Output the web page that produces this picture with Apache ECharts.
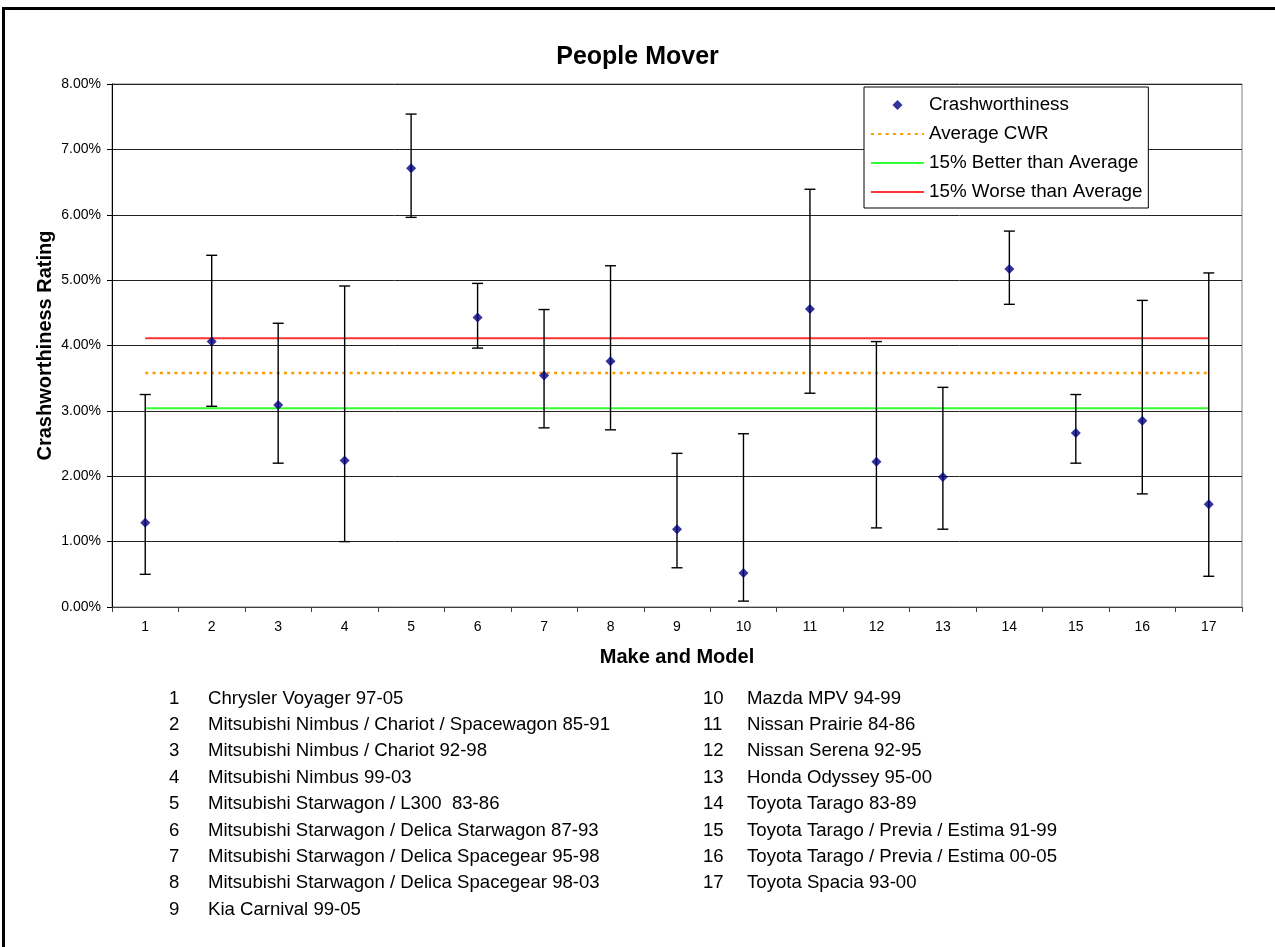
<!DOCTYPE html>
<html>
<head>
<meta charset="utf-8">
<script src="https://cdn.jsdelivr.net/npm/echarts@6/dist/echarts.min.js"></script>
<style>
html,body{margin:0;padding:0;background:#fff;}
#chart{width:1275px;height:947px;}
</style>
</head>
<body>
<div id="chart"></div>
<script>
// ---- data ----
const categories = ['1','2','3','4','5','6','7','8','9','10','11','12','13','14','15','16','17'];
const crashworthiness = [1.29, 4.06, 3.09, 2.24, 6.71, 4.43, 3.54, 3.76, 1.19, 0.52, 4.56, 2.22, 1.99, 5.17, 2.66, 2.85, 1.57];
const upperCI = [3.25, 5.38, 4.34, 4.91, 7.54, 4.95, 4.55, 5.22, 2.35, 2.65, 6.39, 4.06, 3.36, 5.75, 3.25, 4.69, 5.11];
const lowerCI = [0.50, 3.07, 2.20, 1.00, 5.96, 3.96, 2.74, 2.71, 0.60, 0.09, 3.27, 1.21, 1.19, 4.63, 2.20, 1.73, 0.47];
const averageCWR = [3.58, 3.58, 3.58, 3.58, 3.58, 3.58, 3.58, 3.58, 3.58, 3.58, 3.58, 3.58, 3.58, 3.58, 3.58, 3.58, 3.58];
const betterThanAvg = [3.04, 3.04, 3.04, 3.04, 3.04, 3.04, 3.04, 3.04, 3.04, 3.04, 3.04, 3.04, 3.04, 3.04, 3.04, 3.04, 3.04];
const worseThanAvg = [4.11, 4.11, 4.11, 4.11, 4.11, 4.11, 4.11, 4.11, 4.11, 4.11, 4.11, 4.11, 4.11, 4.11, 4.11, 4.11, 4.11];
const yTicks = [0, 1, 2, 3, 4, 5, 6, 7, 8];
const listNumbers = ['1','2','3','4','5','6','7','8','9','10','11','12','13','14','15','16','17'];
const listNames = [
  'Chrysler Voyager 97-05',
  'Mitsubishi Nimbus / Chariot / Spacewagon 85-91',
  'Mitsubishi Nimbus / Chariot 92-98',
  'Mitsubishi Nimbus 99-03',
  'Mitsubishi Starwagon / L300  83-86',
  'Mitsubishi Starwagon / Delica Starwagon 87-93',
  'Mitsubishi Starwagon / Delica Spacegear 95-98',
  'Mitsubishi Starwagon / Delica Spacegear 98-03',
  'Kia Carnival 99-05',
  'Mazda MPV 94-99',
  'Nissan Prairie 84-86',
  'Nissan Serena 92-95',
  'Honda Odyssey 95-00',
  'Toyota Tarago 83-89',
  'Toyota Tarago / Previa / Estima 91-99',
  'Toyota Tarago / Previa / Estima 00-05',
  'Toyota Spacia 93-00'
];

const FONT = "Arial, 'Liberation Sans', sans-serif";
const chart = echarts.init(document.getElementById('chart'), null, {renderer: 'canvas'});

const errData = categories.map((c, i) => [i, lowerCI[i], upperCI[i]]);

const graphics = [];
graphics.push({
  type: 'rect', silent: true, z: 100,
  shape: {x: 3.5, y: 8.5, width: 1400, height: 1100},
  style: {fill: null, stroke: '#000', lineWidth: 3}
});
const rowStart = 698.5, rowGap = 26.4;
listNumbers.forEach((n, i) => {
  const col = i < 9 ? 0 : 1;
  const row = col === 0 ? i : i - 9;
  const y = rowStart + row * rowGap;
  graphics.push({
    type: 'text', silent: true,
    x: col === 0 ? 169 : 703, y: y,
    style: {text: n, font: '18.6px ' + FONT, fill: '#000', verticalAlign: 'middle'}
  });
  graphics.push({
    type: 'text', silent: true,
    x: col === 0 ? 208 : 747, y: y,
    style: {text: listNames[i], font: '18.6px ' + FONT, fill: '#000', verticalAlign: 'middle'}
  });
});

const hideSym = {opacity: 0};
const option = {
  animation: false,
  backgroundColor: '#fff',
  textStyle: {fontFamily: FONT},
  title: {
    text: 'People Mover',
    left: 'center',
    top: 40,
    textStyle: {fontFamily: FONT, fontSize: 25, fontWeight: 'bold', color: '#000'}
  },
  legend: {
    orient: 'vertical',
    left: 864,
    top: 87,
    padding: [8, 6, 6, 6],
    itemWidth: 53,
    itemHeight: 10,
    itemGap: 9,
    symbolKeepAspect: true,
    backgroundColor: '#fff',
    borderColor: '#000',
    borderWidth: 1,
    borderRadius: 0,
    textStyle: {fontFamily: FONT, fontSize: 18.8, color: '#000', lineHeight: 20},
    data: [
      {name: 'Crashworthiness', icon: 'path://M5,0L10,5L5,10L0,5Z'},
      {name: 'Average CWR', itemStyle: hideSym},
      {name: '15% Better than Average', itemStyle: hideSym},
      {name: '15% Worse than Average', itemStyle: hideSym}
    ]
  },
  grid: {left: 112, right: 33, top: 84, bottom: 340, show: true, borderColor: '#808080', borderWidth: 1},
  xAxis: {
    type: 'category',
    data: categories,
    boundaryGap: true,
    name: 'Make and Model',
    nameLocation: 'middle',
    nameGap: 40,
    nameMoveOverlap: false,
    nameTextStyle: {fontFamily: FONT, fontSize: 20, fontWeight: 'bold', color: '#000'},
    axisLine: {show: true, lineStyle: {color: '#404040', width: 1}},
    axisTick: {show: true, length: 5, inside: false, alignWithLabel: false, lineStyle: {color: '#404040'}},
    axisLabel: {fontFamily: FONT, fontSize: 14, color: '#000', margin: 13, interval: 0},
    splitLine: {show: false}
  },
  yAxis: {
    type: 'value',
    min: 0, max: 8, interval: 1,
    name: 'Crashworthiness Rating',
    nameLocation: 'middle',
    nameGap: 57,
    nameMoveOverlap: false,
    nameTextStyle: {fontFamily: FONT, fontSize: 20, fontWeight: 'bold', color: '#000'},
    axisLine: {show: true, lineStyle: {color: '#000', width: 1}},
    axisTick: {show: true, length: 5, lineStyle: {color: '#000'}},
    axisLabel: {fontFamily: FONT, fontSize: 14, color: '#000', margin: 11,
      formatter: v => yTicks.indexOf(v) >= 0 ? v.toFixed(2) + '%' : ''},
    splitLine: {show: true, lineStyle: {color: '#222', width: 1}}
  },
  series: [
    {
      name: '15% Better than Average', type: 'line', data: betterThanAvg,
      symbol: 'none', z: 3,
      lineStyle: {color: '#33FF33', width: 2},
      itemStyle: {color: '#33FF33'}
    },
    {
      name: '15% Worse than Average', type: 'line', data: worseThanAvg,
      symbol: 'none', z: 3,
      lineStyle: {color: '#FF3333', width: 2},
      itemStyle: {color: '#FF3333'}
    },
    {
      name: 'Average CWR', type: 'line', data: averageCWR,
      symbol: 'none', z: 3,
      lineStyle: {color: '#FF9900', width: 2.5, type: [3, 4.3]},
      itemStyle: {color: '#FF9900'}
    },
    {
      name: 'errorbars', type: 'custom', z: 4,
      data: errData,
      encode: {x: 0, y: [1, 2]},
      renderItem: function (params, api) {
        const idx = api.value(0);
        const pHi = api.coord([idx, api.value(2)]);
        const pLo = api.coord([idx, api.value(1)]);
        const w = 5.5;
        const st = {stroke: '#000', lineWidth: 1.4};
        return {
          type: 'group',
          children: [
            {type: 'line', shape: {x1: pHi[0], y1: pHi[1], x2: pLo[0], y2: pLo[1]}, style: st},
            {type: 'line', shape: {x1: pHi[0] - w, y1: pHi[1], x2: pHi[0] + w, y2: pHi[1]}, style: st},
            {type: 'line', shape: {x1: pLo[0] - w, y1: pLo[1], x2: pLo[0] + w, y2: pLo[1]}, style: st}
          ]
        };
      }
    },
    {
      name: 'Crashworthiness', type: 'scatter', data: crashworthiness,
      symbol: 'diamond', symbolSize: 10, z: 5,
      itemStyle: {color: '#000080'}
    }
  ],
  graphic: graphics
};
chart.setOption(option);
</script>
</body>
</html>
